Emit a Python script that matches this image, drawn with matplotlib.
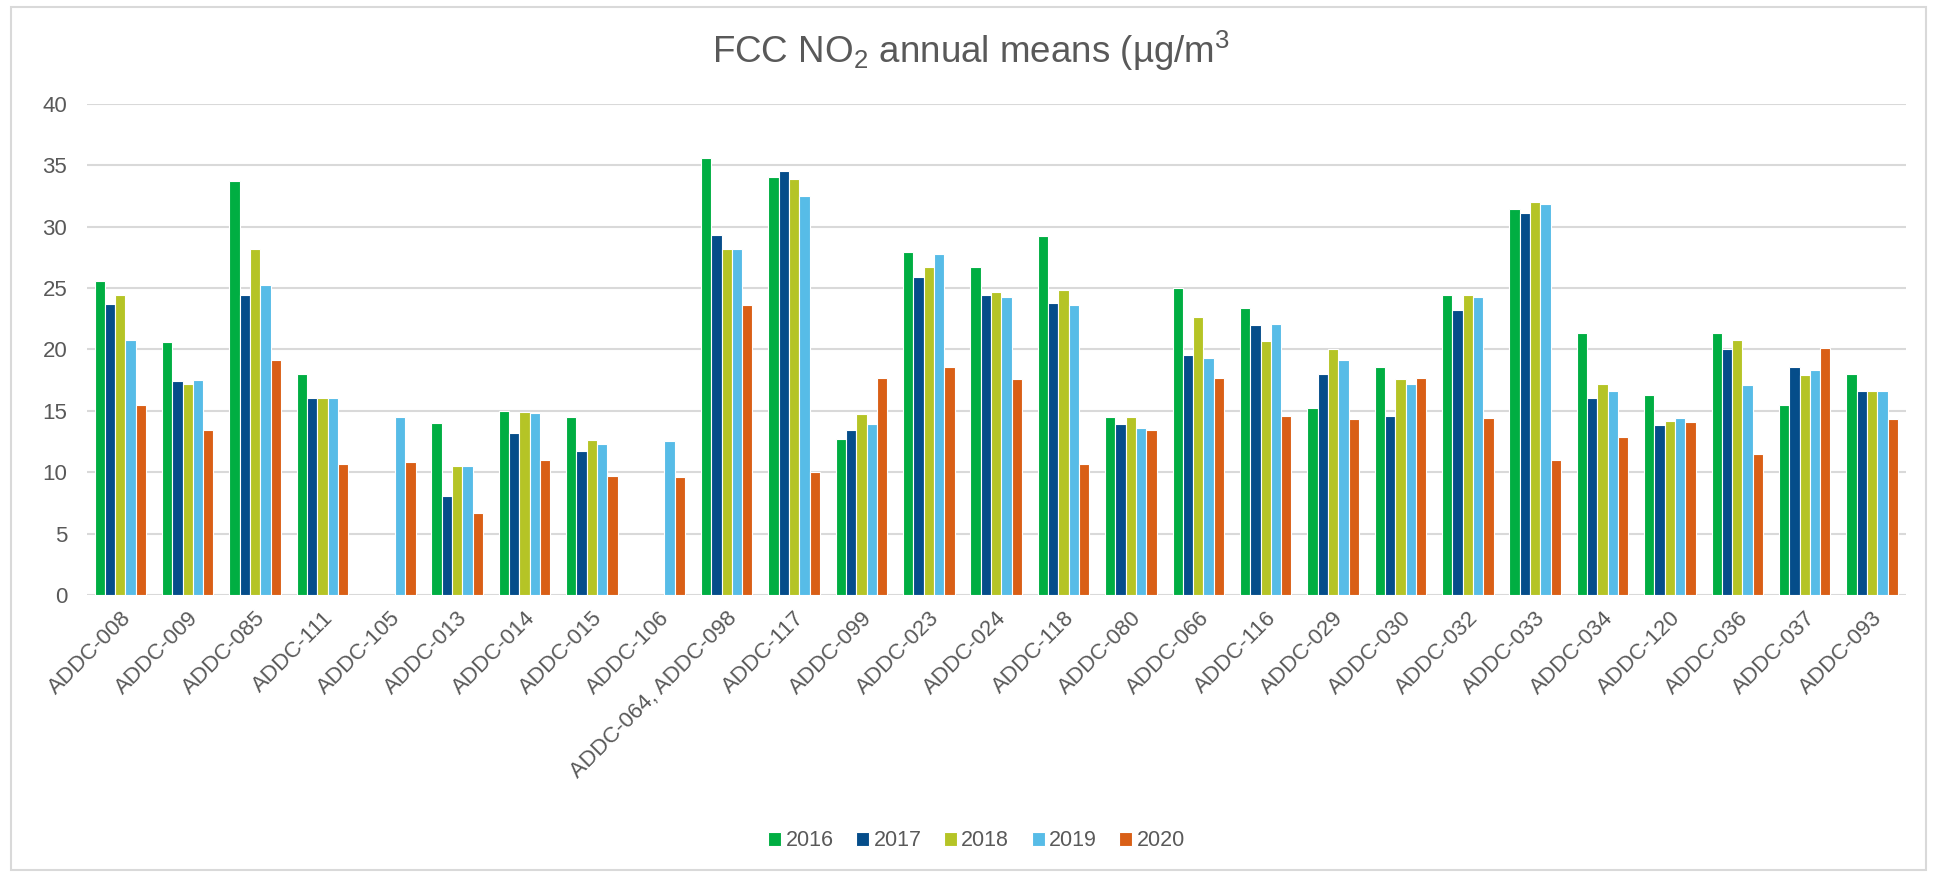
import numpy as np
import matplotlib.pyplot as plt
from matplotlib.patches import Rectangle

plt.rcParams['font.family'] = ['Liberation Sans', 'DejaVu Sans']
plt.rcParams['mathtext.default'] = 'regular'

# sites along the x axis
sites = ["ADDC-008", "ADDC-009", "ADDC-085", "ADDC-111", "ADDC-105", "ADDC-013",
         "ADDC-014", "ADDC-015", "ADDC-106", "ADDC-064, ADDC-098", "ADDC-117",
         "ADDC-099", "ADDC-023", "ADDC-024", "ADDC-118", "ADDC-080", "ADDC-066",
         "ADDC-116", "ADDC-029", "ADDC-030", "ADDC-032", "ADDC-033", "ADDC-034",
         "ADDC-120", "ADDC-036", "ADDC-037", "ADDC-093"]

nan = np.nan
y2016 = [25.6, 20.6, 33.7, 18.0, nan, 14.0, 15.0, 14.5, nan, 35.6, 34.0, 12.7, 27.9, 26.7,
         29.2, 14.5, 25.0, 23.4, 15.2, 18.6, 24.4, 31.4, 21.3, 16.3, 21.3, 15.5, 18.0]
y2017 = [23.7, 17.4, 24.4, 16.0, nan, 8.1, 13.2, 11.7, nan, 29.3, 34.5, 13.4, 25.9, 24.4,
         23.8, 13.9, 19.5, 22.0, 18.0, 14.6, 23.2, 31.1, 16.0, 13.8, 20.0, 18.6, 16.6]
y2018 = [24.4, 17.2, 28.2, 16.0, nan, 10.5, 14.9, 12.6, nan, 28.2, 33.9, 14.7, 26.7, 24.7,
         24.8, 14.5, 22.6, 20.7, 20.0, 17.6, 24.4, 32.0, 17.2, 14.2, 20.8, 17.9, 16.6]
y2019 = [20.8, 17.5, 25.2, 16.0, 14.5, 10.5, 14.8, 12.3, 12.5, 28.2, 32.5, 13.9, 27.8, 24.3,
         23.6, 13.6, 19.3, 22.1, 19.1, 17.2, 24.3, 31.8, 16.6, 14.4, 17.1, 18.3, 16.6]
y2020 = [15.5, 13.4, 19.1, 10.7, 10.8, 6.7, 11.0, 9.7, 9.6, 23.6, 10.0, 17.7, 18.6, 17.6,
         10.7, 13.4, 17.7, 14.6, 14.3, 17.7, 14.4, 11.0, 12.9, 14.1, 11.5, 20.1, 14.3]

years = ["2016", "2017", "2018", "2019", "2020"]
series = [y2016, y2017, y2018, y2019, y2020]
colors = ["#00AE42", "#054D8A", "#B5C426", "#57BCE7", "#D95F16"]

fig = plt.figure(figsize=(19.34, 8.75), dpi=100)
ax = fig.add_axes([0.0448, 0.32, 0.9406, 0.5615])

x = np.arange(len(sites))
w = 0.153
for i in range(5):
    ax.bar(x + (i - 2) * w, series[i], w, color=colors[i], edgecolor="white",
           linewidth=0.8, label=years[i], zorder=3)

ax.set_xlim(-0.5, len(sites) - 0.5)
ax.set_ylim(0, 40)
ax.set_yticks(np.arange(0, 41, 5))
ax.grid(axis="y", color="#D9D9D9", linewidth=1.5, zorder=0)
for s in ax.spines.values():
    s.set_visible(False)
ax.tick_params(axis="both", length=0, labelsize=16, labelcolor="#595959")
ax.tick_params(axis="y", pad=14)
ax.set_xticks(x)
ax.set_xticklabels(sites, rotation=45, ha="right", rotation_mode="anchor")
ax.tick_params(axis="x", pad=9)

fig.text(0.502, 0.928, "FCC NO$_2$ annual means (µg/m$^3$", ha="center",
         va="baseline", fontsize=26.5, color="#595959")

fig.legend(loc="center", bbox_to_anchor=(0.505, 0.039), ncol=5, frameon=False,
           fontsize=15.5, handlelength=0.6, handleheight=0.6, handletextpad=0.2,
           columnspacing=1.05, labelcolor="#595959")

# chart area border
fig.patches.append(Rectangle((11 / 1934, 5 / 875), 1915 / 1934, 863 / 875,
                             transform=fig.transFigure, fill=False,
                             edgecolor="#D9D9D9", linewidth=1.5))

fig.savefig("out.png", dpi=100)
